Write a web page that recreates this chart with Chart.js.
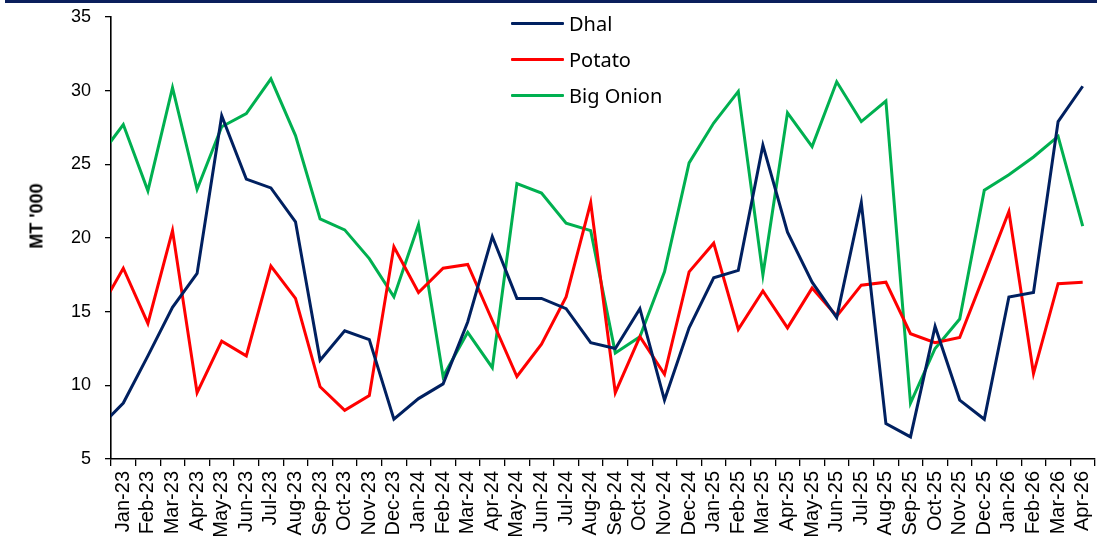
<!DOCTYPE html>
<html>
<head>
<meta charset="utf-8">
<script src="https://cdn.jsdelivr.net/npm/chart.js@4/dist/chart.umd.min.js"></script>
<style>
  html, body { margin: 0; padding: 0; background: #fff; }
  #wrap { position: relative; width: 1097px; height: 539px; overflow: hidden; }
  #topbar { position: absolute; left: 5px; right: 0; top: 0; height: 2.5px; background: #0b1f5c; }
  #chart-box { position: absolute; left: 0; top: 0; width: 1097px; height: 539px; }
  #ytitle {
    position: absolute; left: 37px; top: 216px;
    transform: translate(-50%, -50%) rotate(-90deg);
    font: bold 18px "Liberation Sans", Arial, sans-serif; color: #000; white-space: nowrap;
  }
  #legend { position: absolute; left: 511px; top: 5px; }
  .item { display: flex; align-items: center; height: 36px; }
  .swatch { width: 53px; height: 3px; border-radius: 1px; margin-right: 5px; }
  .label { font: 20px "Noto Sans", sans-serif; color: #000; }
</style>
</head>
<body>
<div id="wrap">
  <div id="chart-box"><canvas id="chart"></canvas></div>
  <div id="topbar"></div>
  <div id="ytitle">MT '000</div>
  <div id="legend"></div>
</div>
<script>
'use strict';

// first label is only there so the line runs in from the left edge
const MONTHS = [
  'Dec-22',
  'Jan-23', 'Feb-23', 'Mar-23', 'Apr-23', 'May-23', 'Jun-23', 'Jul-23', 'Aug-23', 'Sep-23', 'Oct-23', 'Nov-23', 'Dec-23',
  'Jan-24', 'Feb-24', 'Mar-24', 'Apr-24', 'May-24', 'Jun-24', 'Jul-24', 'Aug-24', 'Sep-24', 'Oct-24', 'Nov-24', 'Dec-24',
  'Jan-25', 'Feb-25', 'Mar-25', 'Apr-25', 'May-25', 'Jun-25', 'Jul-25', 'Aug-25', 'Sep-25', 'Oct-25', 'Nov-25', 'Dec-25',
  'Jan-26', 'Feb-26', 'Mar-26', 'Apr-26'
];

const DHAL = [
  7.1,
  8.8, 12.0, 15.3, 17.6, 28.3, 24.0, 23.4, 21.1, 11.7, 13.7, 13.1, 7.7,
  9.1, 10.1, 14.3, 20.1, 15.9, 15.9, 15.2, 12.9, 12.5, 15.2, 9.0, 13.9,
  17.3, 17.8, 26.3, 20.4, 17.0, 14.6, 22.4, 7.4, 6.5, 14.0, 9.0, 7.7,
  16.0, 16.3, 27.9, 30.3
];

const POTATO = [
  15.0,
  17.95, 14.2, 20.5, 9.5, 13.0, 12.0, 18.1, 15.9, 9.9, 8.3, 9.3, 19.4,
  16.3, 17.95, 18.2, 14.4, 10.6, 12.8, 16.0, 22.4, 9.5, 13.3, 10.75, 17.7,
  19.65, 13.8, 16.4, 13.9, 16.6, 14.7, 16.8, 17.0, 13.5, 12.9, 13.25, 17.5,
  21.8, 10.8, 16.9, 17.0
];

const BIG_ONION = [
  25.45,
  27.7, 23.2, 30.2, 23.3, 27.55, 28.45, 30.8, 26.95, 21.3, 20.55, 18.6, 16.0,
  20.9, 10.6, 13.6, 11.2, 23.7, 23.05, 21.0, 20.5, 12.2, 13.3, 17.7, 25.1,
  27.8, 29.95, 17.5, 28.5, 26.2, 30.6, 27.9, 29.3, 8.8, 12.5, 14.5, 23.25,
  24.3, 25.5, 26.9, 20.8
];

const Y_MIN = 5;
const Y_MAX = 35;
const Y_STEP = 5;

const FONT_FAMILY = '"Liberation Sans", Arial, sans-serif';

function $(id) { return document.getElementById(id); }

function series(label, data, color) {
  return {
    label,
    data,
    borderColor: color,
    backgroundColor: color,
    borderWidth: 3,
    pointRadius: 0,
    tension: 0,
    clip: { left: 0, top: 4, right: 4, bottom: 4 }
  };
}

function buildLegend(chart) {
  const box = $('legend');
  box.innerHTML = '';
  chart.data.datasets.forEach(ds => {
    const row = document.createElement('div');
    row.className = 'item';
    const sw = document.createElement('div');
    sw.className = 'swatch';
    sw.style.background = ds.borderColor;
    const txt = document.createElement('span');
    txt.className = 'label';
    txt.textContent = ds.label;
    row.appendChild(sw);
    row.appendChild(txt);
    box.appendChild(row);
  });
}

const chart = new Chart($('chart').getContext('2d'), {
  type: 'line',
  data: {
    labels: MONTHS,
    datasets: [
      series('Dhal', DHAL, '#002060'),
      series('Potato', POTATO, '#ff0000'),
      series('Big Onion', BIG_ONION, '#00b050')
    ]
  },
  options: {
    animation: false,
    responsive: true,
    maintainAspectRatio: false,
    layout: { padding: { top: 17, right: 2, left: 0, bottom: 0 } },
    plugins: { legend: { display: false }, tooltip: { enabled: false } },
    scales: {
      x: {
        type: 'category',
        min: 'Jan-23',
        offset: true,
        afterFit: s => { s.height = 80; s.paddingLeft = 0; s.paddingRight = 0; },
        grid: { offset: true, drawOnChartArea: false, drawTicks: true, tickLength: 7, color: '#000', lineWidth: 1.3 },
        border: { display: true, color: '#000', width: 1.6 },
        ticks: { color: '#000', font: { family: FONT_FAMILY, size: 20 }, minRotation: 90, maxRotation: 90, autoSkip: false, padding: 5 }
      },
      y: {
        min: Y_MIN,
        max: Y_MAX,
        afterFit: s => { s.width = 111; s.paddingTop = 0; s.paddingBottom = 0; },
        grid: { drawOnChartArea: false, drawTicks: true, tickLength: 6, color: '#000', lineWidth: 1.3 },
        border: { display: true, color: '#000', width: 1.6 },
        ticks: { stepSize: Y_STEP, color: '#000', font: { family: FONT_FAMILY, size: 18 }, padding: 14 }
      }
    }
  }
});

buildLegend(chart);
</script>
</body>
</html>
